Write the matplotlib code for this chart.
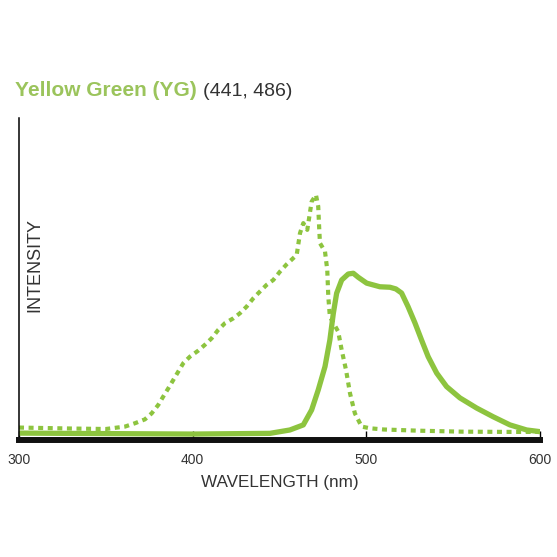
import matplotlib
matplotlib.use('Agg')
import matplotlib.pyplot as plt

plt.rcParams['font.family'] = ['Liberation Sans', 'DejaVu Sans']

# excitation spectrum (dotted), relative intensity in %
ex_nm = [300, 330, 350, 361, 366.8, 372.5, 376.4, 380.2, 383, 386, 388.8, 391.7, 394.6,
         398.4, 403.2, 407, 410.9, 414.7, 418.6, 423.4, 427.2, 431.1, 434.9, 438.7, 442.6,
         446.4, 450.3, 454.1, 459.9, 461.8, 463.7, 466, 467.5, 468.5, 471, 472.3, 472.9,
         473.3, 476.2, 477.5, 478.1, 479, 483.8, 485.8, 488.3, 490.6, 493.4, 497.3, 502.1,
         510, 530, 555, 580, 600]
ex_val = [3.5, 3.1, 2.9, 3.9, 5.3, 6.9, 9.4, 12.9, 16.3, 19.8, 23.2, 26.7, 30.2,
          32.9, 35.4, 37.8, 40.5, 44.0, 46.8, 48.8, 50.9, 53.7, 57.1, 59.9, 62.7,
          64.7, 68.2, 71.2, 75.1, 84.1, 88.3, 85.5, 92.5, 97.2, 100.0, 95.2, 85.5,
          80.0, 76.5, 68.9, 57.8, 49.5, 43.3, 35.7, 27.4, 17.7, 9.4, 3.9, 3.2,
          2.7, 2.2, 1.8, 1.7, 1.7]

# emission spectrum (solid)
em_nm = [300, 350, 400, 444.5, 456, 463.7, 468.5, 472.3, 476.2, 479, 481, 482.9, 485.8,
         489.6, 492.5, 495.4, 500.2, 507.8, 513.6, 517, 520.3, 524, 528, 531.8, 535.6,
         540.5, 546.2, 553.9, 563.5, 573, 582.7, 592.3, 600]
em_val = [1.2, 1.0, 0.8, 1.1, 2.5, 4.6, 10.8, 19.1, 28.8, 39.8, 50.9, 59.2, 64.7,
          67.2, 67.5, 65.8, 63.4, 61.9, 61.7, 61.0, 59.3, 53.7, 46.9, 39.8, 32.9,
          26.1, 20.5, 15.8, 11.6, 8.0, 4.6, 2.5, 1.8]

xticks = [300, 400, 500, 600]

W = 557.0
green = '#8dc43f'
grey = '#333333'

fig = plt.figure(figsize=(5.57, 5.57), dpi=100)
ax = fig.add_axes([19 / W, (W - 440) / W, 521 / W, 322 / W])

ax.plot(ex_nm, ex_val, color=green, lw=3.0, linestyle=(0, (1.2, 1.1)),
        dash_capstyle='butt', dash_joinstyle='round')
ax.plot(em_nm, em_val, color=green, lw=3.8, solid_capstyle='round', solid_joinstyle='round')

ax.set_xlim(300, 600)
ax.set_ylim(-1.66, 131.9)
ax.set_xticks(xticks)
ax.set_xticklabels([str(t) for t in xticks])
ax.set_yticks([])
ax.tick_params(axis='x', direction='in', length=6.5, width=1.0, color='black',
               pad=9, labelsize=10, labelcolor=grey)
ax.spines['top'].set_visible(False)
ax.spines['right'].set_visible(False)
ax.spines['bottom'].set_linewidth(4.3)
ax.spines['bottom'].set_color('#111111')
ax.spines['left'].set_linewidth(1.1)
ax.spines['left'].set_color('black')

# labels and title
fig.text(280 / W, (W - 483) / W, 'WAVELENGTH (nm)', ha='center', va='center',
         fontsize=12.3, color=grey)
fig.text(35 / W, (W - 265) / W, 'INTENSITY', ha='center', va='center', rotation=90,
         fontsize=13, color=grey)
fig.text(15 / W, (W - 95.7) / W, 'Yellow Green (YG)', ha='left', va='baseline',
         fontsize=15, fontweight='bold', color='#9bc45c')
fig.text(203 / W, (W - 95.7) / W, '(441, 486)', ha='left', va='baseline',
         fontsize=14, color=grey)

fig.savefig('out.png', dpi=100, facecolor='white')
